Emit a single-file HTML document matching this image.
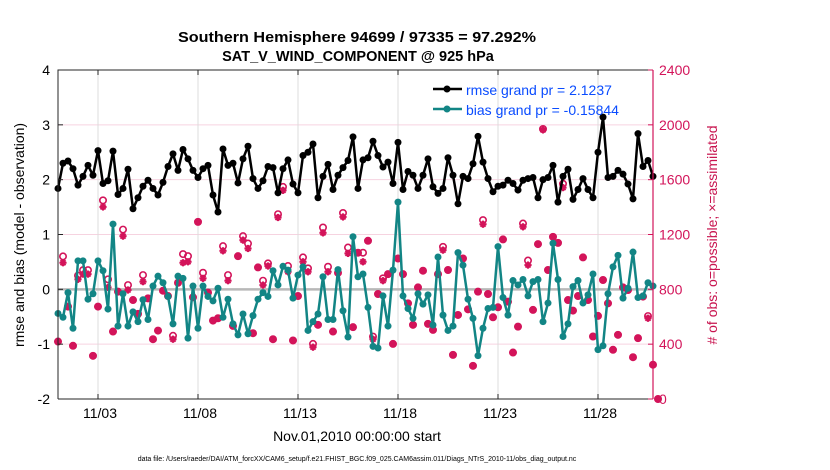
<!DOCTYPE html>
<html><head><meta charset="utf-8"><style>
body{margin:0;background:#fff;}
svg{display:block;font-family:"Liberation Sans",sans-serif;}
</style></head><body>
<svg id="chart" width="830" height="470" viewBox="0 0 830 470" xmlns="http://www.w3.org/2000/svg">
<rect width="830" height="470" fill="#fff"/>
<text x="357" y="42" text-anchor="middle" font-size="14.5" font-weight="bold" textLength="358" lengthAdjust="spacingAndGlyphs">Southern Hemisphere 94699 / 97335 = 97.292%</text>
<text x="358" y="61" text-anchor="middle" font-size="14.5" font-weight="bold">SAT_V_WIND_COMPONENT @ 925 hPa</text>
<g id="grid"></g>
<g id="marks"></g>
<g id="axes"></g>
<text transform="translate(24,235) rotate(-90)" text-anchor="middle" font-size="14">rmse and bias (model - observation)</text>
<text transform="translate(717,235) rotate(-90)" text-anchor="middle" font-size="14" fill="#c8144f"># of obs: o=possible; ×=assimilated</text>
<text x="357" y="441" text-anchor="middle" font-size="14">Nov.01,2010 00:00:00 start</text>
<text x="357" y="461" text-anchor="middle" font-size="7">data file: /Users/raeder/DAI/ATM_forcXX/CAM6_setup/f.e21.FHIST_BGC.f09_025.CAM6assim.011/Diags_NTrS_2010-11/obs_diag_output.nc</text>
<g>
<line x1="433" y1="89" x2="462" y2="89" stroke="#000" stroke-width="2.5"/>
<circle cx="447" cy="89" r="3.5" fill="#000"/>
<text x="466" y="95" font-size="14" fill="#0a4cff">rmse grand pr = 2.1237</text>
<line x1="433" y1="109" x2="462" y2="109" stroke="#128585" stroke-width="2.5"/>
<circle cx="447" cy="109" r="3.5" fill="#128585"/>
<text x="466" y="115" font-size="14" fill="#0a4cff">bias grand pr = -0.15844</text>
</g>
</svg>
<script>
const rmse=[1.84,2.30,2.34,2.20,1.90,2.06,2.26,2.08,2.53,1.93,1.98,2.52,1.73,1.84,2.19,1.47,1.67,1.88,1.99,1.84,1.72,1.95,2.24,2.47,2.17,2.55,2.38,2.17,2.04,2.20,2.26,
1.72,1.41,2.56,2.26,2.30,1.94,2.38,2.61,2.02,1.84,1.98,2.24,2.22,1.76,2.20,2.36,1.92,1.76,2.44,2.50,2.65,1.67,2.06,2.28,1.82,2.08,2.22,2.35,2.78,1.84,
2.36,2.40,2.70,2.44,2.23,2.32,1.93,2.68,1.82,2.15,2.08,1.84,2.08,2.38,1.87,1.75,1.84,2.40,2.08,1.56,2.06,2.02,2.29,2.79,2.32,2.02,1.78,1.88,1.90,
1.99,1.93,1.81,1.99,2.02,2.04,1.67,2.00,2.04,2.26,1.59,2.06,2.19,1.64,1.82,2.02,1.82,1.67,2.50,3.14,2.04,2.06,2.17,2.10,1.92,1.65,2.84,2.24,2.35,2.06];
const bias=[-0.44,-0.51,-0.06,-0.71,0.52,0.52,-0.18,-0.08,0.52,0.34,-0.36,1.19,-0.67,-0.08,-0.67,-0.41,-0.59,-0.19,-0.55,0.06,0.24,0.12,-0.13,-0.63,0.24,0.20,-0.89,0.06,-0.71,0.06,-0.13,
-0.21,0.02,-0.51,-0.18,-0.63,-0.83,-0.45,-0.81,-0.48,-0.18,-0.06,-0.13,0.34,0.08,0.42,0.35,-0.16,0.26,0.41,-0.75,-0.59,-0.45,0.23,-0.55,-0.55,0.36,-0.39,-0.87,0.96,0.23,
0.28,-0.33,-1.04,-1.07,-0.12,-0.67,0.35,1.59,-0.12,-0.35,-0.53,-0.08,-0.27,-0.10,-0.65,0.59,-0.47,-0.75,-0.67,0.67,0.44,-0.18,-0.53,-1.21,-0.71,-0.35,-0.33,0.78,-0.15,
-0.47,0.16,0.08,0.18,-0.12,0.14,0.18,-0.59,-0.25,0.84,0.18,-0.86,-0.63,0.05,0.16,-0.25,-0.10,0.28,-1.10,-1.03,-0.08,0.41,0.62,-0.16,0.02,0.68,-0.15,-0.12,0.12,0.06];
const nUsed=[419,994,674,388,873,911,911,315,674,1401,814,492,783,1188,795,722,621,856,734,436,499,790,751,436,848,994,1001,742,1292,880,776,
572,589,1081,863,533,1042,1159,1098,480,960,831,970,436,1324,1522,928,427,751,1001,928,378,541,1212,928,492,921,1328,1062,524,1067,
1001,1154,436,766,863,911,402,1025,911,698,541,814,936,548,504,911,1086,941,322,613,1025,654,242,783,1275,766,596,669,1164,710,
339,528,1256,977,650,1130,1963,941,1183,1139,1542,722,645,751,1033,722,456,606,868,698,359,468,814,795,305,444,747,589,250,0];
const nPoss=[419,1040,674,388,900,940,940,315,674,1449,873,492,783,1236,831,722,621,904,734,436,499,790,751,461,848,1057,1042,742,1292,921,776,
572,589,1115,904,533,1042,1188,1134,480,960,863,989,436,1348,1547,970,427,751,1033,953,402,541,1251,965,492,921,1357,1105,524,1067,
1067,1154,455,766,880,911,402,1025,911,698,541,814,936,548,504,911,1110,941,322,613,1025,654,242,783,1305,766,596,669,1164,710,
339,528,1280,1010,650,1130,1970,941,1183,1139,1570,722,645,751,1033,722,456,606,868,698,359,468,814,795,305,444,747,605,250,0];
const xTickDays=[2,7,12,17,22,27];
const xTickLabels=["11/03","11/08","11/13","11/18","11/23","11/28"];
const yTicksL=[4,3,2,1,0,-1,-2];
const yTicksR=[2400,2000,1600,1200,800,400,0];

const X0=58,X1=653,Y0=70,Y1=399;
const xs=t=>X0+(t-0)/(29.75)*(X1-X0);
const yL=v=>Y1-(v+2)/6*(Y1-Y0);
const yR=v=>Y1-v/2400*(Y1-Y0);
const NS="http://www.w3.org/2000/svg";
function mk(tag,attrs,parent){const e=document.createElementNS(NS,tag);for(const k in attrs)e.setAttribute(k,attrs[k]);parent.appendChild(e);return e;}
const grid=document.getElementById('grid'),marks=document.getElementById('marks'),axes=document.getElementById('axes');
yTicksL.forEach(v=>{const l=mk('line',{x1:X0,x2:X1,y1:yL(v),y2:yL(v),stroke:'#f6d3e0','stroke-width':1},grid);

});
xTickDays.forEach(d=>{const l=mk('line',{x1:xs(d),x2:xs(d),y1:Y0,y2:Y1,stroke:'#dcdcdc','stroke-width':1},grid);

});
const zl=mk('line',{x1:X0,x2:X1,y1:yL(0),y2:yL(0),stroke:'#b8b8b8','stroke-width':2.5},grid);


const MC='#d3145a';
function star(cx,cy,g){const r=3.6;
[[r,0],[0,r],[r*0.7,r*0.7],[r*0.7,-r*0.7]].forEach(([dx,dy])=>mk('line',{x1:cx-dx,y1:cy-dy,x2:cx+dx,y2:cy+dy,stroke:MC,'stroke-width':2},g));
mk('circle',{cx:cx,cy:cy,r:2.2,fill:MC},g);}
nUsed.forEach((v,i)=>{const t=i*0.25;
const g=mk('g',{},marks);


mk('circle',{cx:xs(t),cy:yR(nPoss[i]),r:3.2,fill:'none',stroke:MC,'stroke-width':1.6},g);
star(xs(t),yR(v),g);});
function series(arr,col,name){
const p=mk('polyline',{points:arr.map((v,i)=>xs(i*0.25)+','+yL(v)).join(' '),fill:'none',stroke:col,'stroke-width':2.5,'stroke-linejoin':'round'},marks);


arr.forEach((v,i)=>{const c=mk('circle',{cx:xs(i*0.25),cy:yL(v),r:3.5,fill:col},marks);

});}
series(bias,'#128585','bias');
series(rmse,'#000','rmse');
const fr=mk('path',{d:`M${X0},${Y1}V${Y0}H${X1}`,fill:'none',stroke:'#262626','stroke-width':1},axes);


const bx=mk('line',{x1:X0,x2:X1,y1:Y1,y2:Y1,stroke:'#262626','stroke-width':1},axes);


const ra=mk('line',{x1:X1,x2:X1,y1:Y0,y2:Y1,stroke:MC,'stroke-width':1.2},axes);


yTicksL.forEach(v=>{mk('line',{x1:X0,x2:X0+5,y1:yL(v),y2:yL(v),stroke:'#262626'},axes);
const t=mk('text',{x:X0-8,y:yL(v)+5,'text-anchor':'end','font-size':14},axes);t.textContent=v;

});
yTicksR.forEach(v=>{mk('line',{x1:X1-5,x2:X1,y1:yR(v),y2:yR(v),stroke:MC},axes);
const t=mk('text',{x:X1+6,y:yR(v)+5,'font-size':14,fill:MC},axes);t.textContent=v;

});
xTickDays.forEach((d,i)=>{mk('line',{x1:xs(d),x2:xs(d),y1:Y1,y2:Y1-5,stroke:'#262626'},axes);
mk('line',{x1:xs(d),x2:xs(d),y1:Y0,y2:Y0+5,stroke:'#262626'},axes);
const t=mk('text',{x:xs(d)+2,y:418,'text-anchor':'middle','font-size':14},axes);t.textContent=xTickLabels[i];

});
</script>
</body></html>
